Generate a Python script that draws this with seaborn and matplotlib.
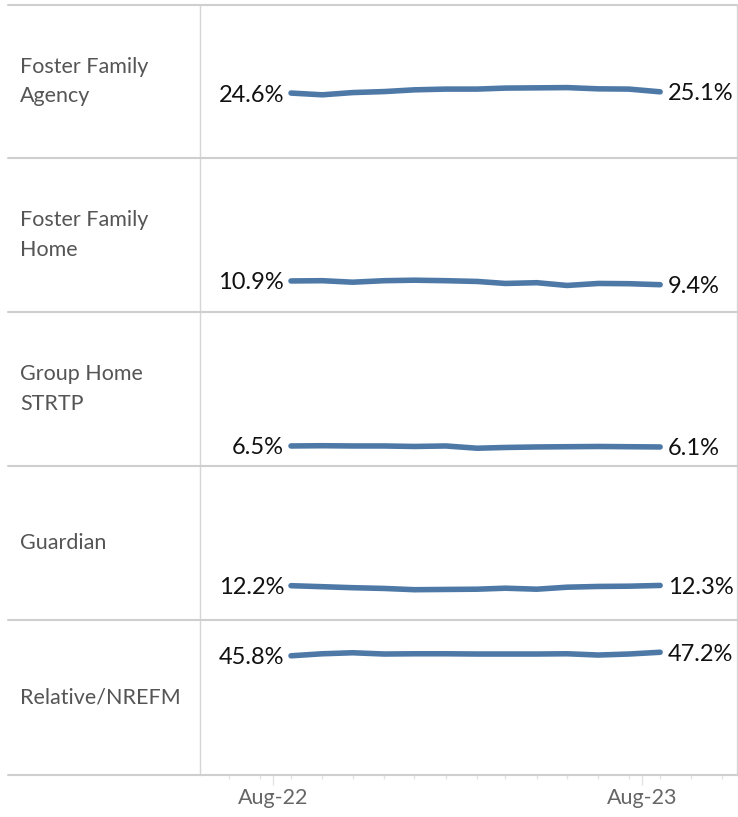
import pandas as pd
import matplotlib.pyplot as plt
from matplotlib.lines import Line2D
import seaborn as sns

# Placement type share by month (Aug-22 .. Aug-23)
categories = ["Foster Family\nAgency", "Foster Family\nHome", "Group Home\nSTRTP",
              "Guardian", "Relative/NREFM"]
foster_agency = [24.6, 23.9, 24.8, 25.2, 25.9, 26.2, 26.2, 26.6, 26.7, 26.8, 26.3, 26.2, 25.1]
foster_home = [10.9, 11.0, 10.4, 11.0, 11.2, 11.0, 10.7, 9.9, 10.2, 9.1, 9.9, 9.8, 9.4]
group_home = [6.5, 6.6, 6.5, 6.5, 6.3, 6.5, 5.6, 5.9, 6.1, 6.2, 6.3, 6.2, 6.1]
guardian = [12.2, 11.8, 11.4, 11.1, 10.6, 10.7, 10.8, 11.2, 10.8, 11.6, 11.9, 12.0, 12.3]
relative = [45.8, 46.6, 47.0, 46.5, 46.6, 46.6, 46.5, 46.5, 46.5, 46.6, 46.1, 46.5, 47.2]
tick_labels = ["Aug-22", "Aug-23"]

# data points sit a bit after the month start on the date axis
months = pd.date_range("2022-08-01", periods=13, freq="MS") + pd.Timedelta(days=18)
series = [foster_agency, foster_home, group_home, guardian, relative]

rows = []
for cat, vals in zip(categories, series):
    for m, v in zip(months, vals):
        rows.append({"category": cat, "month": m, "share": v})
df = pd.DataFrame(rows)

sns.set_theme(style="white")
plt.rcParams["font.family"] = ["Lato", "DejaVu Sans"]

W, H = 738, 817
fig = plt.figure(figsize=(W / 100, H / 100), dpi=100)

bounds = [5, 158, 312, 466, 620, 775]
line_color = "#4e79a7"
grid_color = "#cfcfcf"

xmin = pd.Timestamp("2022-05-21")
xmax = pd.Timestamp("2023-11-03")

for i, cat in enumerate(categories):
    top, bot = bounds[i], bounds[i + 1]
    ax = fig.add_axes([200 / W, 1 - bot / H, (737 - 200) / W, (bot - top) / H])
    sub = df[df["category"] == cat]
    sns.lineplot(data=sub, x="month", y="share", ax=ax, color=line_color,
                 linewidth=4.0, solid_capstyle="round")
    ax.set_xlim(xmin, xmax)
    ax.set_ylim(-1.5, 60)
    ax.set_xlabel("")
    ax.set_ylabel("")
    ax.set_yticks([])
    for side in ["top", "bottom"]:
        ax.spines[side].set_visible(False)
    for side in ["left", "right"]:
        ax.spines[side].set_color("#d6d6d6")
        ax.spines[side].set_linewidth(1)

    first, last = sub.iloc[0], sub.iloc[-1]
    ax.annotate(f"{first['share']:.1f}%", xy=(first["month"], first["share"]),
                xytext=(-7, 0), textcoords="offset pixels", ha="right",
                va="center_baseline", fontsize=17, color="#111111")
    ax.annotate(f"{last['share']:.1f}%", xy=(last["month"], last["share"]),
                xytext=(8, 0), textcoords="offset pixels", ha="left",
                va="center_baseline", fontsize=17, color="#111111")

    fig.text(20 / W, 1 - (top + bot) / 2 / H, cat, ha="left", va="center",
             fontsize=15.5, color="#555555", linespacing=1.58)

    if i < len(categories) - 1:
        ax.set_xticks([])
    else:
        ax.set_xticks([pd.Timestamp("2022-08-01"), pd.Timestamp("2023-08-01")])
        ax.set_xticklabels(tick_labels)
        minor = pd.date_range("2022-06-01", "2023-10-01", freq="MS") + pd.Timedelta(days=18)
        ax.set_xticks(minor, minor=True)
        ax.tick_params(axis="x", which="major", bottom=True, length=7.5, width=1,
                       color="#e3e3e3", labelsize=15.5, labelcolor="#666666", pad=2)
        ax.tick_params(axis="x", which="minor", bottom=True, length=3, width=1,
                       color="#e3e3e3")

# row separators across the whole table
for y in bounds:
    fig.add_artist(Line2D([8 / W, 737 / W], [1 - y / H, 1 - y / H],
                          color=grid_color, linewidth=1.5))

plt.savefig("out.png", dpi=100)
